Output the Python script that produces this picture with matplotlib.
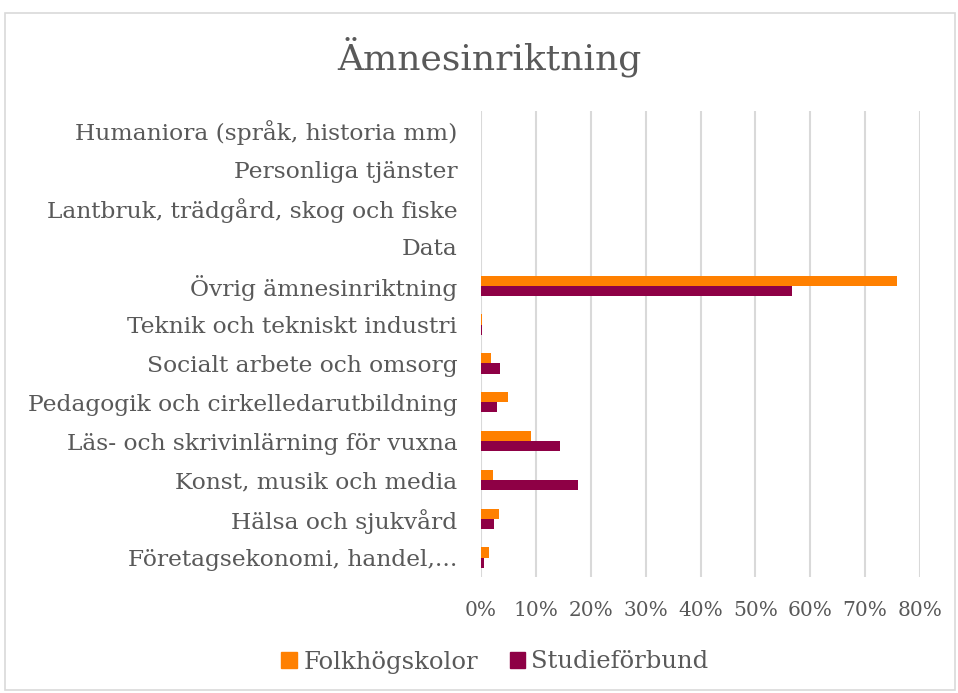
import matplotlib.pyplot as plt
import numpy as np
from matplotlib.patches import Rectangle, Patch

# categories, bottom to top as in the chart
categories = [
    "Företagsekonomi, handel,...",
    "Hälsa och sjukvård",
    "Konst, musik och media",
    "Läs- och skrivinlärning för vuxna",
    "Pedagogik och cirkelledarutbildning",
    "Socialt arbete och omsorg",
    "Teknik och tekniskt industri",
    "Övrig ämnesinriktning",
    "Data",
    "Lantbruk, trädgård, skog och fiske",
    "Personliga tjänster",
    "Humaniora (språk, historia mm)",
]
folkhogskolor = [0.015, 0.033, 0.022, 0.091, 0.050, 0.018, 0.001, 0.758, 0.0, 0.0, 0.0, 0.0]
studieforbund = [0.006, 0.024, 0.176, 0.144, 0.030, 0.035, 0.002, 0.567, 0.0, 0.0, 0.0, 0.0]
series_names = ["Folkhögskolor", "Studieförbund"]
xticks = [0, 0.1, 0.2, 0.3, 0.4, 0.5, 0.6, 0.7, 0.8]

orange = "#FF8000"
purple = "#8E0045"
text_grey = "#595959"
grid_grey = "#D9D9D9"
font = "DejaVu Serif"

fig = plt.figure(figsize=(9.58, 6.93), dpi=100)
ax = fig.add_axes([481 / 958, 1 - 577 / 693, (920 - 481) / 958, (577 - 111) / 693])

y = np.arange(len(categories))
h = 0.26
ax.barh(y + h / 2, folkhogskolor, h, color=orange, zorder=3)
ax.barh(y - h / 2, studieforbund, h, color=purple, zorder=3)

ax.set_xlim(0, 0.8)
ax.set_ylim(-0.5, len(categories) - 0.5)
ax.set_xticks(xticks)
ax.set_xticklabels([f"{int(round(t * 100))}%" for t in xticks], fontname=font, fontsize=14.5, color=text_grey)
ax.set_yticks(y)
ax.set_yticklabels(categories, fontname=font, fontsize=16.8, color=text_grey)
ax.tick_params(axis="x", length=0, pad=17)
ax.tick_params(axis="y", length=0, pad=17)
for s in ax.spines.values():
    s.set_visible(False)
ax.set_axisbelow(True)
ax.grid(axis="x", color=grid_grey, linewidth=1.5)

fig.text(489 / 958, 1 - 57 / 693, "Ämnesinriktning", fontname=font, fontsize=26,
         color=text_grey, ha="center", va="center")

handles = [Patch(color=orange), Patch(color=purple)]
fig.legend(handles, series_names, loc="center", bbox_to_anchor=(495 / 958, 1 - 662 / 693),
           ncol=2, frameon=False, handlelength=0.65, handleheight=0.65, handletextpad=0.25,
           columnspacing=1.3, prop={"family": font, "size": 17.5}, labelcolor=text_grey)

fig.patches.append(Rectangle((5 / 958, 3 / 693), 950 / 958, 677 / 693, transform=fig.transFigure,
                             fill=False, edgecolor=grid_grey, linewidth=1.2))

fig.savefig("out.png", dpi=100)
